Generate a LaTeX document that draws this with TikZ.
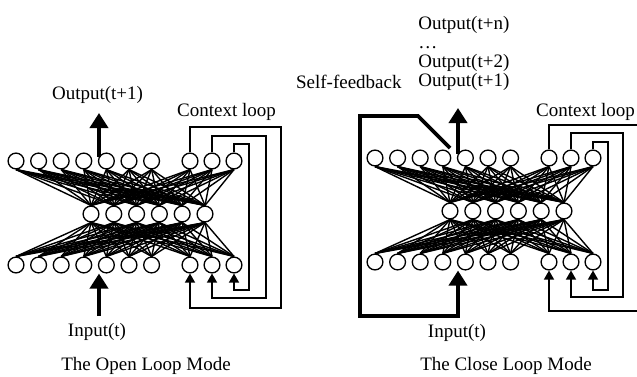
\documentclass[tikz,border=0pt]{standalone}
\usepackage{fontspec}
\setmainfont{Liberation Serif}
\usetikzlibrary{arrows.meta}
\tikzset{>=Triangle}

\begin{document}
\begin{tikzpicture}[x=0.5pt,y=-0.5pt,
  neuron/.style={circle,draw,line width=0.65pt,fill=white,minimum size=7.9pt,inner sep=0pt},
  wire/.style={line width=0.7pt},
  ctx/.style={line width=0.7pt,-{Triangle[width=5pt,length=4.5pt]}},
  bigarrow/.style={line width=2pt,-{Triangle[width=9pt,length=7.5pt]}},
  lbl/.style={font=\fontsize{9.5}{9.5}\selectfont,inner sep=0pt}]

  \useasboundingbox (0,0) rectangle (637,376);
  \clip (0,0) rectangle (637,376);

  % neurons of both modes (o = open loop, c = close loop)
  \foreach \m/\dx/\dy in {o/0/0,c/359/-3} {
    \foreach \i in {1,...,7} {
      \node[neuron] (\m t\i) at ({16+\dx+22.6*(\i-1)},{161+\dy}) {};
      \node[neuron] (\m b\i) at ({16+\dx+22.6*(\i-1)},{265+\dy}) {};
    }
    \foreach \i/\k in {8/0,9/1,10/2} {
      \node[neuron] (\m t\i) at ({190+\dx+22*\k},{161+\dy}) {};
      \node[neuron] (\m b\i) at ({190+\dx+22*\k},{265+\dy}) {};
    }
    \foreach \j in {1,...,6}
      \node[neuron] (\m h\j) at ({91+\dx+22.8*(\j-1)},{214+\dy}) {};
  }

  % full connections to the hidden layer
  \foreach \m in {o,c}
    \foreach \i in {1,...,10}
      \foreach \j in {1,...,6} {
        \draw[wire] (\m t\i.south) -- (\m h\j.north);
        \draw[wire] (\m b\i.north) -- (\m h\j.south);
      }

  % context loops, open mode
  \coordinate (oR1) at (281,127); \coordinate (oS1) at (281,308);
  \coordinate (oR2) at (266,136); \coordinate (oS2) at (266,298);
  \coordinate (oR3) at (249,144); \coordinate (oS3) at (249,290);
  \draw[ctx] (ot8.north) |- (oR1) -- (oS1) -| (ob8.south);
  \draw[ctx] (ot9.north) |- (oR2) -- (oS2) -| (ob9.south);
  \draw[ctx] (ot10.north) |- (oR3) -- (oS3) -| (ob10.south);

  % context loops, close mode
  \coordinate (cR1) at (645,125); \coordinate (cS1) at (645,311);
  \coordinate (cR2) at (623,133); \coordinate (cS2) at (623,297);
  \coordinate (cR3) at (608,142); \coordinate (cS3) at (608,290);
  \draw[ctx] (ct8.north) |- (cR1) -- (cS1) -| (cb8.south);
  \draw[ctx] (ct9.north) |- (cR2) -- (cS2) -| (cb9.south);
  \draw[ctx] (ct10.north) |- (cR3) -- (cS3) -| (cb10.south);

  % output and input arrows
  \coordinate (oOutTip) at (100,113);
  \coordinate (oIn) at (99,316);
  \draw[bigarrow] (ot5.150) -- (ot5.150 |- oOutTip);
  \draw[bigarrow] (oIn) -- (oIn |- ob5.south);

  \coordinate (cOutTip) at (458,108);
  \draw[bigarrow] (ct5.150) -- (ct5.150 |- cOutTip);

  % self-feedback path
  \coordinate (cF0) at (450,148);
  \coordinate (cF1) at (418,116);
  \coordinate (cF2) at (360,116);
  \coordinate (cF3) at (360,316);
  \coordinate (cF4) at (458,316);
  \draw[bigarrow,line width=1.8pt] (cF0) -- (cF1) -- (cF2) -- (cF3) -- (cF4) -- (cF4 |- cb5.south);

  % labels
  \node[lbl] (oOutLbl) at (97.5,95) {Output(t+1)};
  \node[lbl] (oCtxLbl) at (226.5,112) {Context loop};
  \node[lbl] (oInLbl) at (97,332) {Input(t)};
  \node[lbl] (oTitle) at (146,366) {The Open Loop Mode};

  \node[lbl,anchor=west] (cOutN) at (418,25) {Output(t+n)};
  \node[lbl,anchor=west] (cDots) at (418,48) {…};
  \node[lbl,anchor=west] (cOut2) at (418,63) {Output(t+2)};
  \node[lbl,anchor=west] (cOut1) at (418,82) {Output(t+1)};
  \node[lbl,anchor=east] (cFbLbl) at (402,82) {Self-feedback};
  \node[lbl] (cCtxLbl) at (585.5,112) {Context loop};
  \node[lbl] (cInLbl) at (457,333) {Input(t)};
  \node[lbl] (cTitle) at (506,366) {The Close Loop Mode};
\end{tikzpicture}
\end{document}
